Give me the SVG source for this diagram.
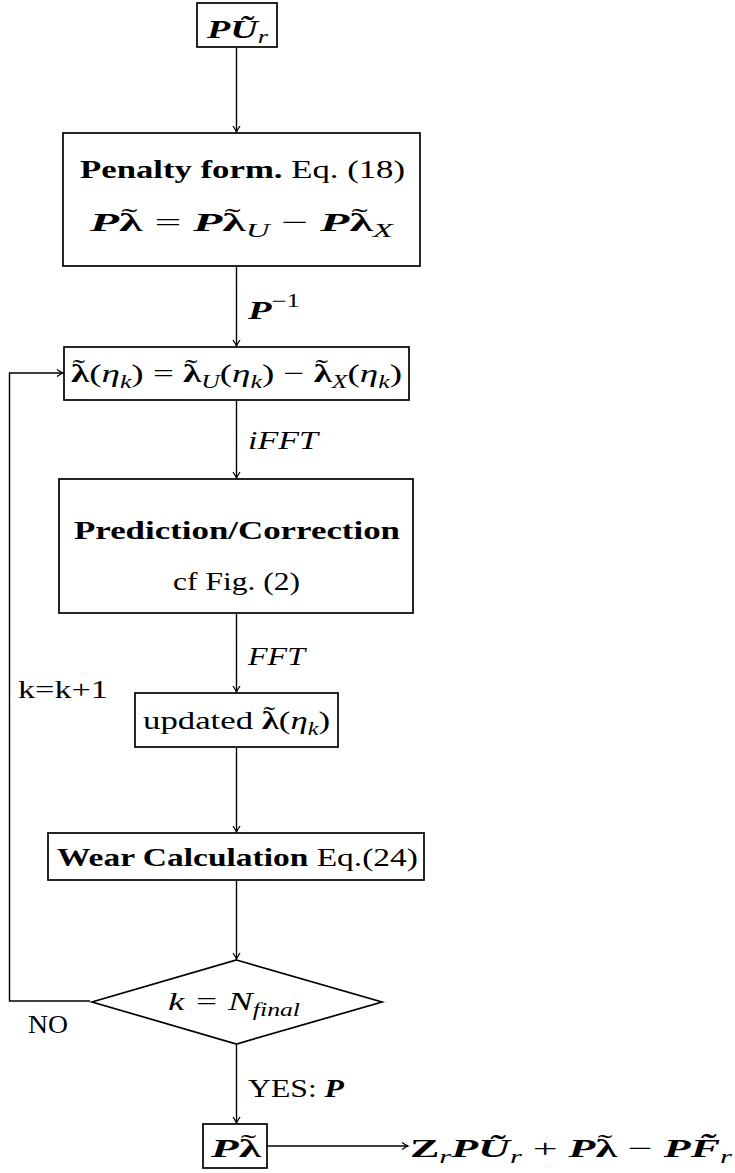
<svg xmlns="http://www.w3.org/2000/svg" width="735" height="1173" viewBox="0 0 735 1173">
<defs>
<style>
.box{fill:#fff;stroke:#000;stroke-width:1.7}
.t{font-family:"Liberation Serif","DejaVu Serif",serif;font-size:26px;fill:#000}
.b{font-weight:bold}
.i{font-style:italic}
.bi{font-weight:bold;font-style:italic}
.s{font-size:18px}
.conn{stroke:#000;stroke-width:1.4;fill:none}
</style>
<marker id="arr" markerWidth="10" markerHeight="10" refX="8" refY="5" orient="auto" markerUnits="userSpaceOnUse">
<path d="M2,1.5 Q6,4.2 8,5 Q6,5.8 2,8.5" fill="none" stroke="#000" stroke-width="1.3"/>
</marker>
</defs>
<rect width="735" height="1173" fill="#fff"/>
<g id="connectors">
<line class="conn" x1="236.5" y1="48" x2="236.5" y2="132" marker-end="url(#arr)"/>
<line class="conn" x1="236.5" y1="267" x2="236.5" y2="346" marker-end="url(#arr)"/>
<line class="conn" x1="236.5" y1="401" x2="236.5" y2="478" marker-end="url(#arr)"/>
<line class="conn" x1="236.5" y1="614" x2="236.5" y2="692" marker-end="url(#arr)"/>
<line class="conn" x1="236.5" y1="748" x2="236.5" y2="832" marker-end="url(#arr)"/>
<line class="conn" x1="236.5" y1="881" x2="236.5" y2="959" marker-end="url(#arr)"/>
<line class="conn" x1="236.5" y1="1045" x2="236.5" y2="1123" marker-end="url(#arr)"/>
<polyline class="conn" points="90,1001 9.5,1001 9.5,373 63,373" marker-end="url(#arr)"/>
<line class="conn" x1="267" y1="1146" x2="408" y2="1146" marker-end="url(#arr)"/>
<text class="t" x="248" y="319" textLength="52" lengthAdjust="spacingAndGlyphs"><tspan class="bi">P</tspan><tspan class="s" dy="-12">−1</tspan></text>
<text class="t i" x="248" y="449" textLength="70" lengthAdjust="spacingAndGlyphs">iFFT</text>
<text class="t i" x="248" y="665" textLength="57" lengthAdjust="spacingAndGlyphs">FFT</text>
<text class="t" x="18" y="698" textLength="90" lengthAdjust="spacingAndGlyphs">k=k+1</text>
<text class="t" x="28" y="1033" textLength="40" lengthAdjust="spacingAndGlyphs">NO</text>
<text class="t" x="248" y="1097" textLength="96" lengthAdjust="spacingAndGlyphs">YES: <tspan class="bi">P</tspan></text>
</g>
<g id="n1">
<rect class="box" x="197" y="3" width="80" height="44"/>
<text class="t" x="207" y="38" textLength="61" lengthAdjust="spacingAndGlyphs"><tspan class="bi">PŨ</tspan><tspan class="i s" dy="5">r</tspan></text>
</g>
<g id="n2">
<rect class="box" x="63" y="133" width="357" height="133"/>
<text class="t" x="80" y="178" textLength="325" lengthAdjust="spacingAndGlyphs"><tspan class="b">Penalty form.</tspan> Eq. (18)</text>
<text class="t" x="90" y="231" textLength="303" lengthAdjust="spacingAndGlyphs"><tspan class="bi">P</tspan><tspan class="b">λ</tspan><tspan dx="-11.5" dy="-5">˜</tspan><tspan dx="2.8" dy="5"> = </tspan><tspan class="bi">P</tspan><tspan class="b">λ</tspan><tspan dx="-11.5" dy="-5">˜</tspan><tspan class="i s" dx="2.8" dy="11">U</tspan><tspan dy="-6"> − </tspan><tspan class="bi">P</tspan><tspan class="b">λ</tspan><tspan dx="-11.5" dy="-5">˜</tspan><tspan class="i s" dx="2.8" dy="11">X</tspan></text>
</g>
<g id="n3">
<rect class="box" x="64" y="347" width="345" height="53"/>
<text class="t" x="71" y="382" textLength="331" lengthAdjust="spacingAndGlyphs"><tspan class="b">λ</tspan><tspan dx="-11.5" dy="-5">˜</tspan><tspan dx="2.8" dy="5">(</tspan><tspan class="i">η</tspan><tspan class="i s" dy="6">k</tspan><tspan dy="-6">) = </tspan><tspan class="b">λ</tspan><tspan dx="-11.5" dy="-5">˜</tspan><tspan class="i s" dx="2.8" dy="11">U</tspan><tspan dy="-6">(</tspan><tspan class="i">η</tspan><tspan class="i s" dy="6">k</tspan><tspan dy="-6">) − </tspan><tspan class="b">λ</tspan><tspan dx="-11.5" dy="-5">˜</tspan><tspan class="i s" dx="2.8" dy="11">X</tspan><tspan dy="-6">(</tspan><tspan class="i">η</tspan><tspan class="i s" dy="6">k</tspan><tspan dy="-6">)</tspan></text>
</g>
<g id="n4">
<rect class="box" x="59" y="479" width="354" height="134"/>
<text class="t b" x="74" y="539" textLength="326" lengthAdjust="spacingAndGlyphs">Prediction/Correction</text>
<text class="t" x="173" y="590" textLength="127" lengthAdjust="spacingAndGlyphs">cf Fig. (2)</text>
</g>
<g id="n5">
<rect class="box" x="135" y="693" width="203" height="54"/>
<text class="t" x="143" y="729" textLength="187" lengthAdjust="spacingAndGlyphs">updated <tspan class="b">λ</tspan><tspan dx="-11.5" dy="-5">˜</tspan><tspan dx="2.8" dy="5">(</tspan><tspan class="i">η</tspan><tspan class="i s" dy="6">k</tspan><tspan dy="-6">)</tspan></text>
</g>
<g id="n6">
<rect class="box" x="48" y="833" width="376" height="47"/>
<text class="t" x="57" y="866" textLength="361" lengthAdjust="spacingAndGlyphs"><tspan class="b">Wear Calculation</tspan> Eq.(24)</text>
</g>
<g id="n7">
<polygon class="box" points="236.5,960 382,1002 236.5,1044 92,1002"/>
<text class="t i" x="168" y="1010" textLength="132" lengthAdjust="spacingAndGlyphs">k = N<tspan class="s" dy="6">final</tspan></text>
</g>
<g id="n8">
<rect class="box" x="203" y="1124" width="64" height="44"/>
<text class="t" x="211" y="1157" textLength="50" lengthAdjust="spacingAndGlyphs"><tspan class="bi">P</tspan><tspan class="b">λ</tspan><tspan dx="-11.5" dy="-5">˜</tspan></text>
</g>
<g id="n9">
<text class="t" x="410" y="1157" textLength="322" lengthAdjust="spacingAndGlyphs"><tspan class="b">Z</tspan><tspan class="i s" dy="6">r</tspan><tspan class="bi" dy="-6">PŨ</tspan><tspan class="i s" dy="6">r</tspan><tspan dy="-6"> + </tspan><tspan class="bi">P</tspan><tspan class="b">λ</tspan><tspan dx="-11.5" dy="-5">˜</tspan><tspan dx="2.8" dy="5"> − </tspan><tspan class="bi">PF̃</tspan><tspan class="i s" dy="6">r</tspan></text>
</g>
</svg>
